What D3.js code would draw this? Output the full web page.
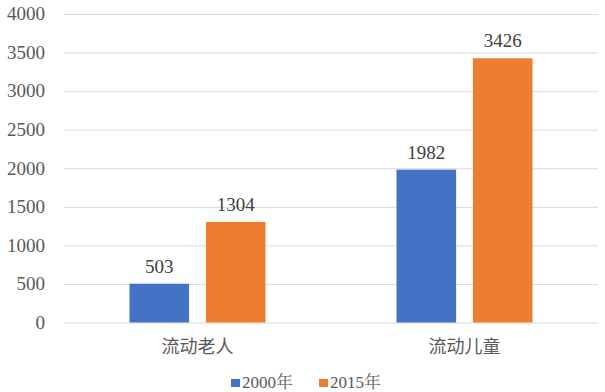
<!DOCTYPE html>
<html><head><meta charset="utf-8">
<script src="https://cdn.jsdelivr.net/npm/d3@7"></script>
<style>body{margin:0;background:#fff;} svg{display:block;}</style>
</head><body>
<script>
const categories = ["流动老人", "流动儿童"];
const seriesNames = ["2000年", "2015年"];
const values2000 = [503, 1982];
const values2015 = [1304, 3426];
const yTicks = [0, 500, 1000, 1500, 2000, 2500, 3000, 3500, 4000];
const colors = ["#4472C4", "#ED7D31"];

const W = 605, H = 392;
const svg = d3.select("body").append("svg").attr("width", W).attr("height", H);
const serif = "'Liberation Serif', 'Noto Serif CJK SC', 'Noto Sans CJK SC', serif";
const cjk = "'Noto Sans CJK SC', sans-serif";

const x0 = d3.scaleBand().domain(categories).range([64, 598]).paddingInner(0).paddingOuter(0);
const x1 = d3.scaleBand().domain(seriesNames).range([65.5, 267-65.5]).paddingInner(0.22);
const y = d3.scaleLinear().domain([0, 4000]).range([322.5, 14]);

// gridlines
svg.append("g").attr("transform", "translate(64,0)")
  .call(d3.axisLeft(y).tickValues(yTicks).tickSize(-(598-64)).tickFormat(""))
  .call(g => g.select(".domain").remove())
  .call(g => g.selectAll("line").attr("stroke", "#D9D9D9").attr("stroke-width", 1));

// y labels
svg.append("g").selectAll("text").data(yTicks).join("text")
  .attr("x", 45).attr("y", d => y(d)).attr("dy", "0.33em")
  .attr("text-anchor", "end").style("font-family", serif).style("font-size", "19px")
  .attr("fill", "#595959").text(d => d);

const data = categories.map((c, i) => ({cat: c, vals: [values2000[i], values2015[i]]}));
const groups = svg.append("g").selectAll("g").data(data).join("g")
  .attr("transform", d => `translate(${x0(d.cat)},0)`);
groups.selectAll("rect").data(d => d.vals.map((v, j) => ({v, s: seriesNames[j], j})))
  .join("rect")
  .attr("x", d => x1(d.s)).attr("width", x1.bandwidth())
  .attr("y", d => y(d.v)).attr("height", d => y(0) - y(d.v))
  .attr("fill", d => colors[d.j]);
groups.selectAll("text.val").data(d => d.vals.map((v, j) => ({v, s: seriesNames[j], j})))
  .join("text").attr("class", "val")
  .attr("x", d => x1(d.s) + x1.bandwidth()/2).attr("y", d => y(d.v) - 11)
  .attr("text-anchor", "middle").style("font-family", serif).style("font-size", "19px")
  .attr("fill", "#404040").text(d => d.v);

// category labels
svg.append("g").selectAll("text").data(categories).join("text")
  .attr("x", d => x0(d) + x0.bandwidth()/2).attr("y", 353)
  .attr("text-anchor", "middle").style("font-family", cjk).style("font-size", "18px")
  .attr("fill", "#595959").text(d => d);

// legend
const leg = svg.append("g");
const legX = [231, 319];
seriesNames.forEach((s, i) => {
  leg.append("rect").attr("x", legX[i]).attr("y", 379).attr("width", 9).attr("height", 8).attr("fill", colors[i]);
  leg.append("text").attr("x", legX[i] + 11).attr("y", 388)
    .style("font-family", serif).style("font-size", "17px").attr("fill", "#595959").text(s);
});
</script>
</body></html>
